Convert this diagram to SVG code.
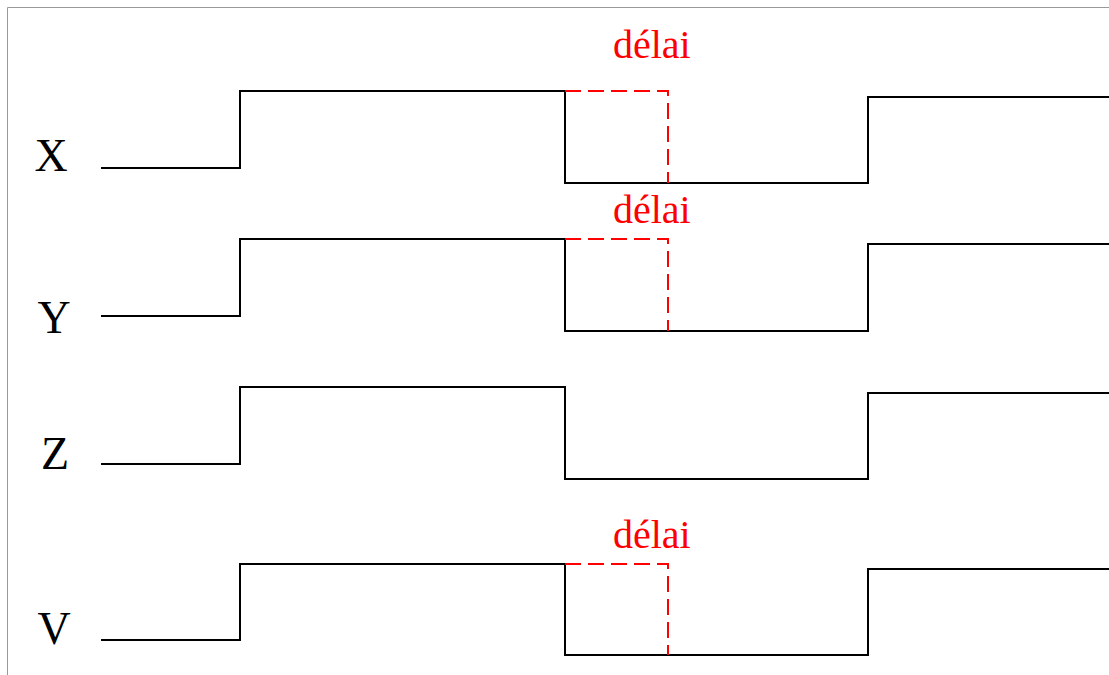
<svg xmlns="http://www.w3.org/2000/svg" width="1109" height="675" viewBox="0 0 1109 675">
<style>
.sig{fill:none;stroke:#000;stroke-width:2}
.dl{fill:none;stroke:#f00;stroke-width:2;stroke-dasharray:16 7}
.lbl{font-family:"Liberation Serif",serif;font-size:46px;fill:#000;text-anchor:middle}
.red{font-family:"Liberation Serif",serif;font-size:40px;fill:#f00}
</style>
<rect width="1109" height="675" fill="#fff"/>
<path d="M7.5 675V7.5H1109" fill="none" stroke="#999" stroke-width="1"/>
<g id="X"><text class="lbl" x="51" y="171">X</text><path class="sig" d="M101 168H240V91H565V183H868V97H1109"/></g>
<g id="Y"><text class="lbl" x="54" y="333">Y</text><path class="sig" d="M101 316H240V239H565V331H868V244H1109"/></g>
<g id="Z"><text class="lbl" x="55" y="469">Z</text><path class="sig" d="M101 464H240V387H565V479H868V393H1109"/></g>
<g id="V"><text class="lbl" x="54" y="644">V</text><path class="sig" d="M101 640H240V564H565V655H868V569H1109"/></g>
<g id="delays">
<path class="dl" d="M565 91H668V183"/>
<path class="dl" d="M565 239H668V331"/>
<path class="dl" d="M565 564H668V655"/>
<text class="red" x="613" y="58">délai</text>
<text class="red" x="613" y="223">délai</text>
<text class="red" x="613" y="548">délai</text>
</g>
</svg>
